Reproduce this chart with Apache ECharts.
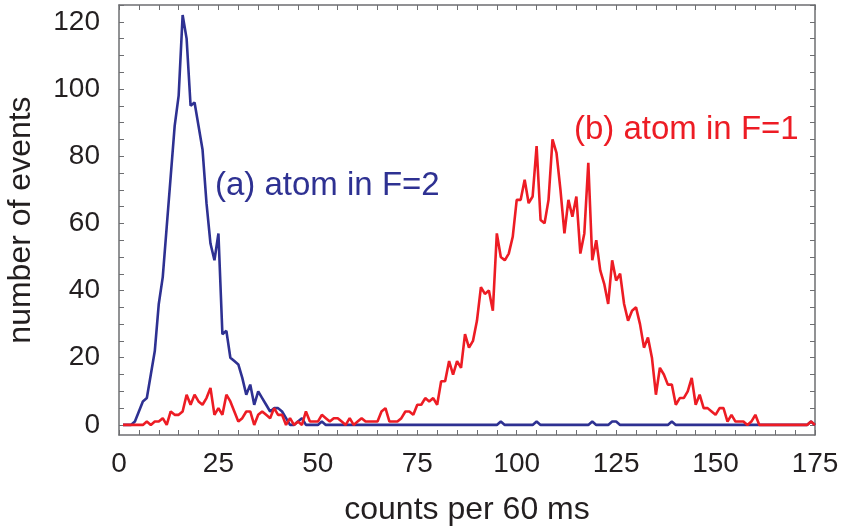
<!DOCTYPE html>
<html><head><meta charset="utf-8">
<script src="https://cdn.jsdelivr.net/npm/echarts@6/dist/echarts.min.js"></script>
<style>html,body{margin:0;padding:0;background:#fff}#c{width:845px;height:529px}</style>
</head><body><div id="c"></div>
<script>
// bin positions (counts per 60 ms), 1..175
const bins = Array.from({length: 175}, (_, i) => i + 1);

// (a) atom in F=2 histogram
const f2Counts = [
  0,0,0,1,4,7,8,15,22,36,
  44,59,74,89,98,122,115,95,96,89,
  82,66,54,49,57,27,28,20,19,18,
  14,9,12,6,10,8,6,4,5,5,
  4,2,0,0,1,2,0,0,0,0,
  1,0,0,0,0,0,0,0,0,0,
  0,0,0,0,0,0,0,0,0,0,
  0,0,0,0,0,0,0,0,0,0,
  0,0,0,0,0,0,0,0,0,0,
  0,0,0,0,0,1,0,0,0,0,
  0,0,0,0,1,0,0,0,0,0,
  0,0,0,0,0,0,0,0,1,0,
  0,0,0,1,1,0,0,0,0,0,
  0,0,0,0,0,0,0,0,1,0,
  0,0,0,0,0,0,0,0,0,0,
  0,0,0,0,0,0,0,0,0,0,
  0,0,0,0,0,0,0,0,0,0,
  0,0,0,1,0
];

// (b) atom in F=1 histogram
const f1Counts = [
  0,0,0,0,0,0,1,0,1,1,
  2,0,4,3,3,4,9,6,9,7,
  6,8,11,3,5,3,9,7,4,1,
  2,4,4,0,3,4,3,2,5,3,
  3,0,2,0,1,0,4,1,1,1,
  3,2,1,2,2,1,0,2,0,1,
  2,1,1,1,1,4,5,1,1,1,
  2,4,4,3,6,6,8,7,8,6,
  13,13,19,15,19,17,27,23,25,31,
  41,39,40,34,57,50,49,51,56,67,
  67,73,66,68,83,61,60,67,85,81,
  70,57,67,62,68,51,57,78,49,55,
  46,42,36,49,43,45,36,31,34,35,
  30,23,26,20,9,17,15,12,12,6,
  8,8,10,14,6,9,5,5,4,3,
  5,5,1,3,1,1,1,0,1,3,
  0,0,0,0,0,0,0,0,0,0,
  0,0,0,1,0
];

const xTickLabels = [0, 25, 50, 75, 100, 125, 150, 175];
const xTickMarks = [0,5,10,15,20,25,30,35,40,45,50,55,60,65,70,75,80,85,90,95,100,105,110,115,120,125,130,135,140,145,150,155,160,165,170,175];
const yTickLabels = [0, 20, 40, 60, 80, 100, 120];
const yTickMarks = [0,5,10,15,20,25,30,35,40,45,50,55,60,65,70,75,80,85,90,95,100,105,110,115,120,125];

const BLUE = '#2e3192', RED = '#ed1c24', FRAME = '#6d6e71', INK = '#231f20';
const FONT = 'Liberation Sans';

function xAx(pos, labels) {
  return {
    type: 'value', position: pos, min: 0, max: 175,
    axisLine: {show: true, onZero: false, lineStyle: {color: FRAME, width: 1.5}},
    axisTick: {show: true, inside: true, length: 5, customValues: xTickMarks, lineStyle: {color: FRAME, width: 1}},
    axisLabel: labels ? {show: true, customValues: xTickLabels, fontSize: 28, fontFamily: FONT, color: INK, margin: 15} : {show: false},
    splitLine: {show: false},
    name: labels ? 'counts per 60 ms' : '', nameLocation: 'middle', nameGap: 59,
    nameTextStyle: {fontSize: 32, fontFamily: FONT, color: INK}
  };
}
function yAx(pos, labels) {
  return {
    type: 'value', position: pos, min: -3, max: 125,
    axisLine: {show: true, onZero: false, lineStyle: {color: FRAME, width: 1.5}},
    axisTick: {show: true, inside: true, length: 5, customValues: yTickMarks, lineStyle: {color: FRAME, width: 1}},
    axisLabel: labels ? {show: true, customValues: yTickLabels, fontSize: 28, fontFamily: FONT, color: INK, margin: 19} : {show: false},
    splitLine: {show: false},
    name: labels ? 'number of events' : '', nameLocation: 'middle', nameGap: 82,
    nameTextStyle: {fontSize: 32, fontFamily: FONT, color: INK}
  };
}

const chart = echarts.init(document.getElementById('c'), null, {renderer: 'canvas'});
chart.setOption({
  animation: false,
  backgroundColor: '#fff',
  grid: {left: 119, right: 30, top: 5, bottom: 94, containLabel: false, outerBoundsMode: 'none'},
  xAxis: [xAx('bottom', true), xAx('top', false)],
  yAxis: [yAx('left', true), yAx('right', false)],
  series: [
    {name: 'F=2', type: 'line', xAxisIndex: 0, yAxisIndex: 0, showSymbol: false,
     data: bins.map((b, i) => [b, f2Counts[i]]),
     lineStyle: {color: BLUE, width: 2.6}, itemStyle: {color: BLUE}},
    {name: 'F=1', type: 'line', xAxisIndex: 0, yAxisIndex: 0, showSymbol: false,
     data: bins.map((b, i) => [b, f1Counts[i]]),
     lineStyle: {color: RED, width: 2.6}, itemStyle: {color: RED}}
  ],
  graphic: [
    {type: 'text', left: 215, top: 169, style: {text: '(a) atom in F=2', fill: BLUE, font: '33px "Liberation Sans"'}},
    {type: 'text', left: 574, top: 113, style: {text: '(b) atom in F=1', fill: RED, font: '33px "Liberation Sans"'}}
  ]
});
</script>
</body></html>
